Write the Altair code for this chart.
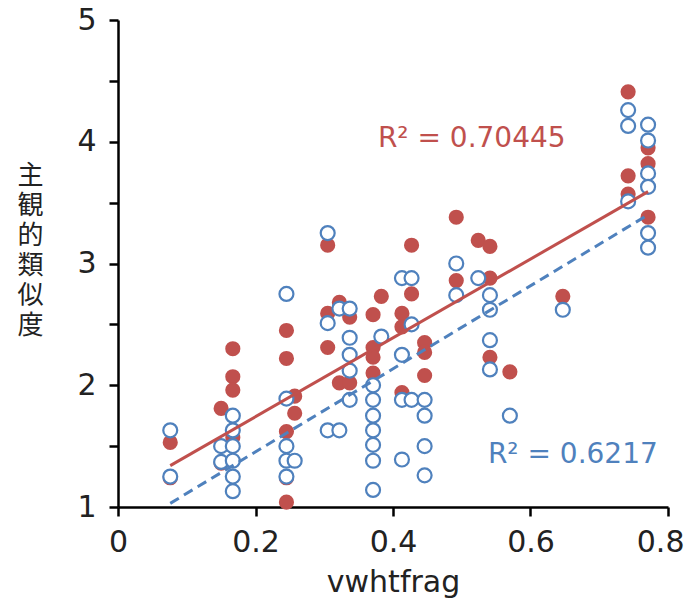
import altair as alt
import pandas as pd

# red series (filled)
red_x = [0.076, 0.076, 0.150, 0.150, 0.167, 0.167, 0.167, 0.167,
         0.245, 0.245, 0.245, 0.245, 0.245, 0.257, 0.257,
         0.305, 0.305, 0.305, 0.322, 0.322, 0.337, 0.337,
         0.371, 0.371, 0.371, 0.371, 0.383,
         0.413, 0.413, 0.413, 0.427, 0.427, 0.446, 0.446, 0.446,
         0.492, 0.492, 0.524, 0.541, 0.541, 0.541, 0.570, 0.647,
         0.742, 0.742, 0.742, 0.771, 0.771, 0.771]
red_y = [1.53, 1.24, 1.81, 1.36, 2.30, 2.07, 1.96, 1.57,
         2.45, 2.22, 1.62, 1.04, 1.24, 1.91, 1.77,
         3.15, 2.59, 2.31, 2.68, 2.02, 2.56, 2.02,
         2.58, 2.31, 2.23, 2.10, 2.73,
         2.59, 2.48, 1.94, 3.15, 2.75, 2.35, 2.27, 2.08,
         3.38, 2.86, 3.19, 3.14, 2.88, 2.23, 2.11, 2.73,
         4.41, 3.72, 3.57, 3.95, 3.82, 3.38]

# blue series (hollow)
blue_x = [0.076, 0.076, 0.150, 0.150,
          0.167, 0.167, 0.167, 0.167, 0.167, 0.167,
          0.245, 0.245, 0.245, 0.245, 0.245, 0.257,
          0.305, 0.305, 0.305, 0.322, 0.322,
          0.337, 0.337, 0.337, 0.337, 0.337,
          0.371, 0.371, 0.371, 0.371, 0.371, 0.371, 0.371, 0.383,
          0.413, 0.413, 0.413, 0.413, 0.427, 0.427, 0.427,
          0.446, 0.446, 0.446, 0.446,
          0.492, 0.492, 0.524, 0.541, 0.541, 0.541, 0.541, 0.570, 0.647,
          0.742, 0.742, 0.742, 0.771, 0.771, 0.771, 0.771, 0.771, 0.771]
blue_y = [1.63, 1.25, 1.50, 1.37,
          1.75, 1.63, 1.50, 1.38, 1.25, 1.13,
          2.75, 1.89, 1.50, 1.38, 1.25, 1.38,
          3.25, 2.51, 1.63, 2.63, 1.63,
          2.63, 2.39, 2.25, 2.12, 1.88,
          2.00, 1.88, 1.75, 1.63, 1.51, 1.38, 1.14, 2.40,
          2.88, 2.25, 1.88, 1.39, 2.88, 2.50, 1.88,
          1.88, 1.75, 1.50, 1.26,
          3.00, 2.74, 2.88, 2.74, 2.62, 2.37, 2.13, 1.75, 2.62,
          4.26, 4.13, 3.51, 4.14, 4.01, 3.74, 3.63, 3.25, 3.13]

# linear fit lines (endpoints)
fit_x = [0.076, 0.771]
red_fit_y = [1.34, 3.59]
blue_fit_y = [1.03, 3.40]

x_ticks = [0, 0.2, 0.4, 0.6, 0.8]
y_ticks = [1, 1.5, 2, 2.5, 3, 3.5, 4, 4.5, 5]
red_label = "R² = 0.70445"
blue_label = "R² = 0.6217"
y_title = "主観的類似度"
x_title = "vwhtfrag"

RED = "#C0504D"
BLUE = "#4F81BD"
FONT = "DejaVu Sans"
CJK = "Noto Sans CJK JP"
INK = "#222222"

red_df = pd.DataFrame({"x": red_x, "y": red_y})
blue_df = pd.DataFrame({"x": blue_x, "y": blue_y})
red_fit = pd.DataFrame({"x": fit_x, "y": red_fit_y})
blue_fit = pd.DataFrame({"x": fit_x, "y": blue_fit_y})

xs = alt.Scale(domain=[0, 0.8], nice=False, zero=False)
ys = alt.Scale(domain=[1, 5], nice=False, zero=False)

last_x = "datum.value >= 0.79"
x_axis = alt.Axis(values=x_ticks, title=x_title, grid=False, format="~g",
                  labelFlush=False,
                  labelAlign=alt.condition(last_x, alt.value("right"), alt.value("center")),
                  labelOffset=alt.condition(last_x, alt.value(16), alt.value(0)),
                  domainColor="black", domainWidth=2.5, tickColor="black",
                  tickWidth=2.5, tickSize=9, labelPadding=11, labelFontSize=30,
                  labelColor=INK, labelFont=FONT, titleFont=FONT,
                  titleFontSize=30, titleFontWeight="normal", titleColor=INK,
                  titleBaseline="alphabetic", titleY=84)
y_axis = alt.Axis(values=y_ticks, title=list(y_title), grid=False,
                  labelExpr="datum.value % 1 == 0 ? format(datum.value, 'd') : ''",
                  labelFlush=False,
                  domainColor="black", domainWidth=2.5, tickColor="black",
                  tickWidth=2.5, tickSize=9, labelPadding=13, labelFontSize=30,
                  labelColor=INK, labelFont=FONT, titleFont=CJK,
                  titleFontSize=26, titleFontWeight="normal", titleColor=INK,
                  titleAngle=0, titleAlign="center", titleBaseline="top",
                  titleX=-88, titleY=142, titleLineHeight=30)

red_pts = alt.Chart(red_df).mark_circle(size=230, color=RED, opacity=1).encode(
    x=alt.X("x:Q", scale=xs, axis=x_axis),
    y=alt.Y("y:Q", scale=ys, axis=y_axis),
)
blue_pts = alt.Chart(blue_df).mark_point(
    shape="circle", size=195, filled=False, fill="white", fillOpacity=1,
    stroke=BLUE, strokeWidth=2.2, opacity=1).encode(
    x=alt.X("x:Q", scale=xs), y=alt.Y("y:Q", scale=ys))

red_line = alt.Chart(red_fit).mark_line(color=RED, strokeWidth=3).encode(
    x=alt.X("x:Q", scale=xs), y=alt.Y("y:Q", scale=ys))
blue_line = alt.Chart(blue_fit).mark_line(
    color=BLUE, strokeWidth=3, strokeDash=[10, 6]).encode(
    x=alt.X("x:Q", scale=xs), y=alt.Y("y:Q", scale=ys))

red_txt = alt.Chart(pd.DataFrame({"t": [red_label]})).mark_text(
    align="left", baseline="middle", fontSize=28, font=FONT, color=RED).encode(
    x=alt.datum(0.378), y=alt.datum(4.025), text="t:N")
blue_txt = alt.Chart(pd.DataFrame({"t": [blue_label]})).mark_text(
    align="left", baseline="middle", fontSize=28, font=FONT, color=BLUE).encode(
    x=alt.datum(0.538), y=alt.datum(1.425), text="t:N")

chart = alt.layer(red_pts, blue_pts, red_line, blue_line, red_txt, blue_txt).properties(
    width=550, height=487,
    autosize=alt.AutoSizeParams(type="none"),
    padding={"left": 110, "top": 12, "right": 16, "bottom": 96},
    background="white",
).configure_view(stroke=None)

chart.save("out.html", embed_options={"renderer": "svg", "actions": False})
